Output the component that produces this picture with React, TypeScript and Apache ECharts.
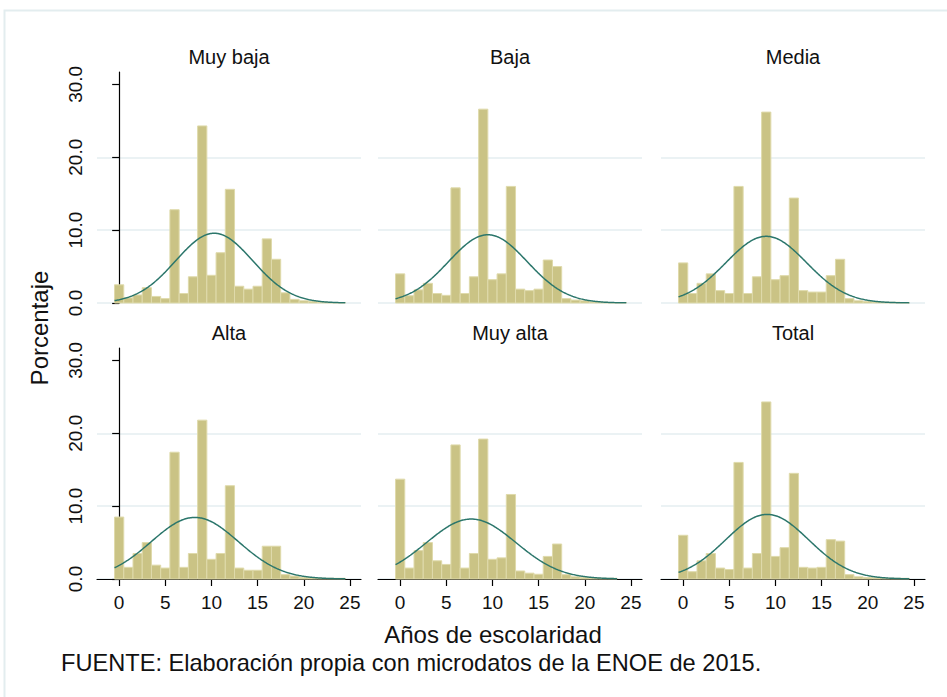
import React, { useEffect, useRef } from 'react';
import * as echarts from 'echarts';

// Grupos de ingreso (uno por panel) y años de escolaridad (0-24)
const GROUPS = ['Muy baja', 'Baja', 'Media', 'Alta', 'Muy alta', 'Total'];
const YEARS = [0, 1, 2, 3, 4, 5, 6, 7, 8, 9, 10, 11, 12, 13, 14, 15, 16, 17, 18, 19, 20, 21, 22, 23, 24];

// Porcentaje de personas por año de escolaridad en cada grupo
const MUY_BAJA = [2.5, 0.7, 1.1, 2.1, 0.9, 0.6, 12.8, 1.3, 3.6, 24.3, 3.8, 6.9, 15.6, 2.3, 1.9, 2.3, 8.8, 6.0, 1.4, 0.5, 0.3, 0.2, 0.1, 0.05, 0.05];
const BAJA = [4.0, 1.0, 1.8, 2.7, 1.3, 1.05, 15.8, 1.3, 3.6, 26.6, 3.2, 4.0, 16.0, 1.9, 1.7, 1.9, 5.9, 5.0, 0.6, 0.4, 0.3, 0.15, 0.1, 0.05, 0.05];
const MEDIA = [5.5, 1.3, 2.7, 4.0, 1.7, 1.3, 16.0, 1.3, 3.6, 26.2, 3.2, 3.75, 14.4, 1.7, 1.5, 1.5, 3.75, 6.0, 0.6, 0.3, 0.2, 0.15, 0.1, 0.1, 0.05];
const ALTA = [8.5, 1.6, 3.5, 5.0, 1.9, 1.5, 17.4, 1.6, 3.5, 21.8, 2.7, 3.5, 12.8, 1.5, 1.2, 1.2, 4.5, 4.5, 0.6, 0.4, 0.2, 0.15, 0.1, 0.1, 0.1];
const MUY_ALTA = [13.7, 1.5, 3.9, 5.0, 2.5, 2.0, 18.4, 1.5, 3.5, 19.2, 2.7, 2.9, 11.6, 1.1, 0.8, 0.65, 3.1, 4.8, 0.6, 0.3, 0.2, 0.15, 0.1, 0.1];
const TOTAL = [6.0, 1.0, 2.5, 3.5, 1.5, 1.3, 16.0, 1.5, 3.5, 24.3, 3.1, 4.3, 14.5, 1.6, 1.5, 1.6, 5.4, 5.2, 0.6, 0.3, 0.2, 0.15, 0.1, 0.1, 0.1];
const SHARES = [MUY_BAJA, BAJA, MEDIA, ALTA, MUY_ALTA, TOTAL];

// Parámetros de la curva normal ajustada en cada grupo
const NORMAL_MEAN = [10.3, 9.5, 9.0, 8.2, 7.7, 9.1];
const NORMAL_SD = [4.17, 4.26, 4.36, 4.72, 4.85, 4.5];

// Marcas de los ejes
const X_TICKS = [0, 5, 10, 15, 20, 25];
const Y_TICKS = [0, 10, 20, 30];

const FONT = '"Liberation Sans", Arial, Helvetica, sans-serif';
const BAR_FILL = '#cac385';
const BAR_EDGE = '#dfdaab';
const CURVE = '#2b766b';
const GRID_LINE = '#e5eef0';
const INK = '#111111';

const COL_LEFT = [97, 378, 661];
const ROW_TOP = [72, 348];
const PANEL_W = 264;
const PANEL_H = 231;

// Densidad normal en porcentaje (ancho de clase = 1 año)
function normalCurve(mean: number, sd: number, from: number, to: number): number[][] {
  const pts: number[][] = [];
  const k = 100 / (sd * Math.sqrt(2 * Math.PI));
  for (let i = 0; from + i * 0.1 <= to + 1e-9; i++) {
    const x = from + i * 0.1;
    const z = (x - mean) / sd;
    pts.push([x, k * Math.exp(-0.5 * z * z)]);
  }
  return pts;
}

export default function App() {
  const ref = useRef<HTMLDivElement>(null);

  useEffect(() => {
    if (!ref.current) return;
    const chart = echarts.init(ref.current, undefined, { renderer: 'svg' });

    const grids: any[] = [];
    const xAxes: any[] = [];
    const yAxes: any[] = [];
    const series: any[] = [];
    const graphics: any[] = [];

    GROUPS.forEach((name, i) => {
      const row = Math.floor(i / 3);
      const col = i % 3;
      const left = COL_LEFT[col];
      const top = ROW_TOP[row];
      const bottomRow = row === 1;
      const firstCol = col === 0;

      grids.push({ left, top, width: PANEL_W, height: PANEL_H, containLabel: false });

      xAxes.push({
        type: 'value',
        gridIndex: i,
        min: -2.4,
        max: 26.2,
        splitLine: { show: false },
        axisLine: { show: bottomRow, onZero: false, lineStyle: { color: '#000', width: 1.2 } },
        axisTick: {
          show: bottomRow,
          customValues: X_TICKS,
          length: 7,
          lineStyle: { color: '#000', width: 1.2 },
        },
        axisLabel: {
          show: bottomRow,
          customValues: X_TICKS,
          margin: 14,
          fontSize: 19,
          fontFamily: FONT,
          color: INK,
        },
      });

      yAxes.push({
        type: 'value',
        gridIndex: i,
        min: 0,
        max: 31.7,
        interval: 10,
        axisLine: { show: firstCol, lineStyle: { color: '#000', width: 1.2 } },
        axisTick: {
          show: firstCol,
          customValues: Y_TICKS,
          length: 7,
          lineStyle: { color: '#000', width: 1.2 },
        },
        axisLabel: {
          show: firstCol,
          customValues: Y_TICKS,
          rotate: 90,
          margin: 12,
          fontSize: 19,
          fontFamily: FONT,
          color: INK,
          formatter: (v: number) => v.toFixed(1),
        },
        splitLine: {
          show: true,
          showMaxLine: false,
          lineStyle: { color: GRID_LINE, width: 1.5 },
        },
      });

      const values = SHARES[i];
      const barData = values.map((v, k) => [YEARS[k], v]);

      series.push({
        type: 'custom',
        xAxisIndex: i,
        yAxisIndex: i,
        data: barData,
        encode: { x: 0, y: 1 },
        z: 2,
        renderItem: (_params: any, api: any) => {
          const x = api.value(0);
          const y = api.value(1);
          const p0 = api.coord([x - 0.5, 0]);
          const p1 = api.coord([x + 0.5, y]);
          return {
            type: 'rect',
            shape: { x: p0[0], y: p1[1], width: p1[0] - p0[0], height: p0[1] - p1[1] },
            style: { fill: BAR_FILL, stroke: BAR_EDGE, lineWidth: 1 },
          };
        },
      });

      series.push({
        type: 'line',
        xAxisIndex: i,
        yAxisIndex: i,
        data: normalCurve(NORMAL_MEAN[i], NORMAL_SD[i], -0.5, YEARS[values.length - 1] + 0.5),
        showSymbol: false,
        symbol: 'none',
        smooth: false,
        z: 3,
        lineStyle: { color: CURVE, width: 1.5 },
      });

      graphics.push({
        type: 'text',
        x: left + PANEL_W / 2,
        y: row === 0 ? 57 : 333,
        style: {
          text: name,
          fontSize: 20,
          fontFamily: FONT,
          fill: INK,
          align: 'center',
          verticalAlign: 'middle',
        },
      });
    });

    // Marco exterior del gráfico
    graphics.unshift({
      type: 'rect',
      shape: { x: 4.5, y: 10.5, width: 960, height: 700 },
      style: { fill: 'none', stroke: '#e3edef', lineWidth: 2 },
      silent: true,
    });

    graphics.push(
      {
        type: 'text',
        x: 39,
        y: 328,
        rotation: Math.PI / 2,
        style: {
          text: 'Porcentaje',
          fontSize: 24,
          fontFamily: FONT,
          fill: INK,
          align: 'center',
          verticalAlign: 'middle',
        },
      },
      {
        type: 'text',
        x: 493,
        y: 634,
        style: {
          text: 'Años de escolaridad',
          fontSize: 24,
          fontFamily: FONT,
          fill: INK,
          align: 'center',
          verticalAlign: 'middle',
        },
      },
      {
        type: 'text',
        x: 61,
        y: 663,
        style: {
          text: 'FUENTE: Elaboración propia con microdatos de la ENOE de 2015.',
          fontSize: 23.6,
          fontFamily: FONT,
          fill: INK,
          align: 'left',
          verticalAlign: 'middle',
        },
      }
    );

    chart.setOption({
      animation: false,
      backgroundColor: '#ffffff',
      grid: grids,
      xAxis: xAxes,
      yAxis: yAxes,
      series,
      graphic: graphics,
    });

    return () => chart.dispose();
  }, []);

  return (
    <div
      ref={ref}
      style={{ position: 'fixed', left: 0, top: 0, width: 947, height: 697, background: '#fff' }}
    />
  );
}
